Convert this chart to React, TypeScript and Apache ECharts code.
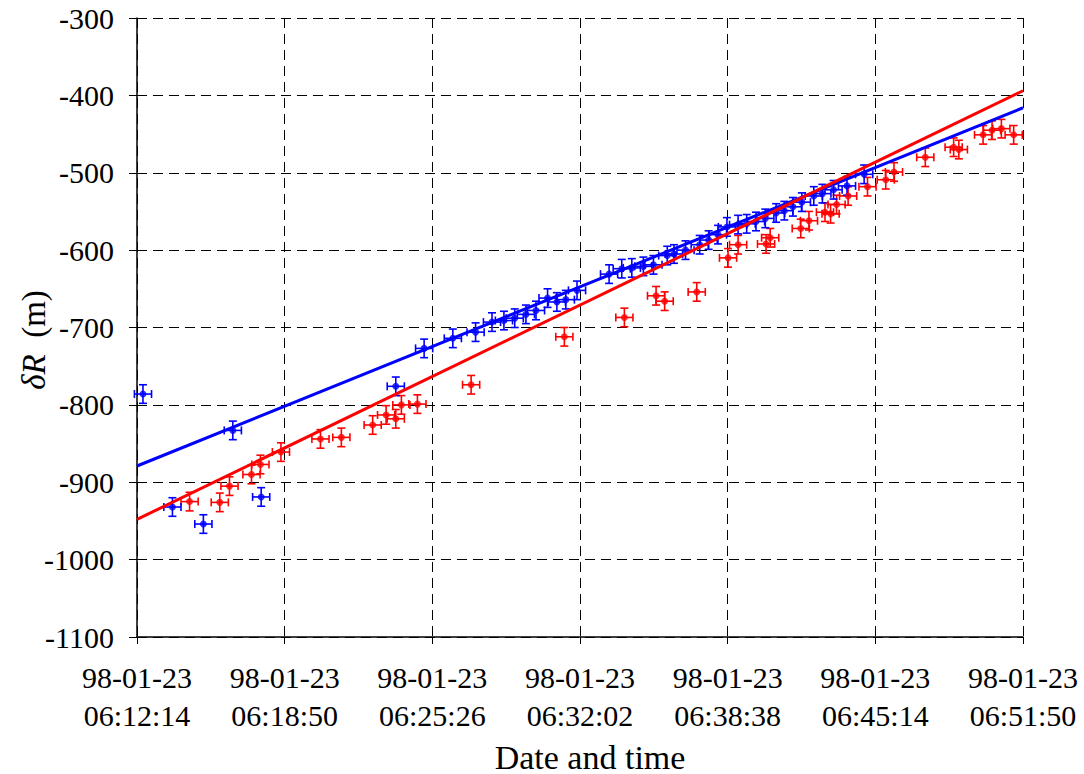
import React, { useEffect, useRef } from "react";
import * as echarts from "echarts";

// seconds after 98-01-23 06:12:14
const blueTime = [16, 95, 178, 257, 333, 694, 770, 847, 908, 952, 984, 1013, 1043, 1070, 1101, 1126, 1150, 1180, 1266, 1300, 1327, 1358, 1385, 1422, 1440, 1471, 1509, 1533, 1558, 1582, 1612, 1635, 1660, 1685, 1714, 1736, 1759, 1783, 1815, 1838, 1868, 1904, 1950];
const blueValue = [-786, -932, -954, -833, -919, -776, -727, -714, -706, -693, -691, -688, -683, -678, -662, -667, -664, -652, -631, -624, -623, -621, -619, -607, -605, -600, -593, -587, -580, -570, -567, -566, -563, -559, -552, -549, -544, -538, -530, -527, -522, -517, -502];
const redTime = [141, 222, 248, 307, 331, 386, 492, 548, 632, 668, 694, 709, 752, 896, 1146, 1307, 1392, 1415, 1501, 1585, 1612, 1687, 1698, 1780, 1802, 1845, 1860, 1876, 1907, 1959, 2008, 2030, 2114, 2190, 2204, 2269, 2293, 2318, 2351];
const redValue = [-925, -926, -905, -890, -877, -861, -844, -842, -826, -813, -818, -800, -799, -774, -712, -687, -659, -666, -654, -610, -593, -592, -584, -572, -562, -551, -553, -541, -530, -518, -509, -499, -480, -467, -470, -451, -445, -443, -451];
const timeErr = 23; // s
const valueErr = 12; // m
const blueTrendTime = [0, 2376];
const blueTrendValue = [-879, -416];
const redTrendTime = [0, 2376];
const redTrendValue = [-948, -394];
const tickDate = "98-01-23";
const tickTimes = ["06:12:14", "06:18:50", "06:25:26", "06:32:02", "06:38:38", "06:45:14", "06:51:50"];
const tickStep = 396;

const FONT = "'Liberation Serif', 'Times New Roman', serif";

function errorSeries(name: string, t: number[], v: number[], color: string) {
  return {
    type: "custom",
    name,
    data: t.map((x, i) => [x, v[i]]),
    encode: { x: 0, y: 1 },
    renderItem: (params: any, api: any) => {
      const x = api.value(0);
      const y = api.value(1);
      const l = api.coord([x - timeErr, y]);
      const r = api.coord([x + timeErr, y]);
      const tp = api.coord([x, y + valueErr]);
      const bt = api.coord([x, y - valueErr]);
      const cap = 4;
      const style = { stroke: color, lineWidth: 1.6, fill: null };
      const ln = (x1: number, y1: number, x2: number, y2: number) => ({
        type: "line",
        shape: { x1, y1, x2, y2 },
        style,
      });
      return {
        type: "group",
        children: [
          ln(l[0], l[1], r[0], r[1]),
          ln(tp[0], tp[1], bt[0], bt[1]),
          ln(l[0], l[1] - cap, l[0], l[1] + cap),
          ln(r[0], r[1] - cap, r[0], r[1] + cap),
          ln(tp[0] - cap, tp[1], tp[0] + cap, tp[1]),
          ln(bt[0] - cap, bt[1], bt[0] + cap, bt[1]),
        ],
      };
    },
    z: 2,
  };
}

function dotSeries(t: number[], v: number[], color: string) {
  return {
    type: "scatter",
    data: t.map((x, i) => [x, v[i]]),
    symbol: "circle",
    symbolSize: 7,
    itemStyle: { color },
    z: 3,
  };
}

function trendSeries(t: number[], v: number[], color: string) {
  return {
    type: "line",
    data: t.map((x, i) => [x, v[i]]),
    symbol: "none",
    lineStyle: { color, width: 3 },
    z: 4,
  };
}

export default function App() {
  const ref = useRef<HTMLDivElement>(null);
  useEffect(() => {
    if (!ref.current) return;
    const chart = echarts.init(ref.current, null, { renderer: "svg" });
    const option: any = {
      animation: false,
      backgroundColor: "#ffffff",
      grid: { left: 137, right: 61, top: 18, bottom: 137, outerBoundsMode: "none" },
      xAxis: {
        type: "value",
        min: 0,
        max: tickStep * (tickTimes.length - 1),
        interval: tickStep,
        axisLine: { show: true, onZero: false, lineStyle: { color: "#000", width: 1.5 } },
        axisTick: { show: true, length: 7, lineStyle: { color: "#000" } },
        axisLabel: {
          color: "#000",
          fontFamily: FONT,
          fontSize: 30,
          lineHeight: 38,
          margin: 21,
          formatter: (val: number) => {
            const i = Math.round(val / tickStep);
            return tickDate + "\n" + (tickTimes[i] ?? "");
          },
        },
        splitLine: { show: true, lineStyle: { color: "#000", type: [10, 6], width: 1 } },
      },
      yAxis: {
        type: "value",
        min: -1100,
        max: -300,
        interval: 100,
        axisLine: { show: true, onZero: false, lineStyle: { color: "#000", width: 1.5 } },
        axisTick: { show: true, length: 8, lineStyle: { color: "#000" } },
        axisLabel: {
          color: "#000",
          fontFamily: FONT,
          fontSize: 30,
          margin: 23,
          formatter: (val: number) => String(val),
        },
        splitLine: { show: true, lineStyle: { color: "#000", type: [10, 6], width: 1 } },
      },
      graphic: [
        {
          type: "text",
          x: 590,
          y: 757,
          style: {
            text: "Date and time",
            font: "34px " + FONT,
            fill: "#000",
            textAlign: "center",
            textVerticalAlign: "middle",
          },
        },
        {
          type: "text",
          x: 34,
          y: 340,
          rotation: Math.PI / 2,
          style: {
            text: "{i|δR}  (m)",
            font: "33px " + FONT,
            fill: "#000",
            textAlign: "center",
            textVerticalAlign: "middle",
            rich: {
              i: { fontStyle: "italic", fontFamily: FONT, fontSize: 33, fill: "#000" },
            },
          },
        },
      ],
      series: [
        errorSeries("redErr", redTime, redValue, "#ff0000"),
        dotSeries(redTime, redValue, "#ff0000"),
        errorSeries("blueErr", blueTime, blueValue, "#0000ff"),
        dotSeries(blueTime, blueValue, "#0000ff"),
        trendSeries(blueTrendTime, blueTrendValue, "#0000ff"),
        trendSeries(redTrendTime, redTrendValue, "#ff0000"),
      ],
    };
    chart.setOption(option);
    return () => chart.dispose();
  }, []);
  return (
    <div
      ref={ref}
      style={{ position: "fixed", left: 0, top: 0, width: 1084, height: 774, background: "#fff" }}
    />
  );
}
